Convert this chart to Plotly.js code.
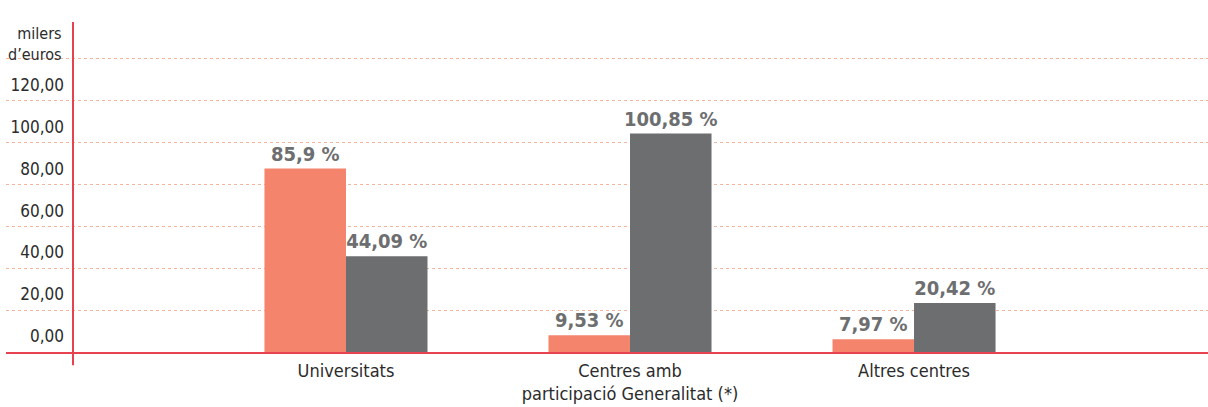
<!DOCTYPE html>
<html>
<head>
<meta charset="utf-8">
<script src="https://cdn.plot.ly/plotly-3.0.1.min.js"></script>
<style>html,body{margin:0;padding:0;background:#fff;}#chart{width:1208px;height:407px;}</style>
</head>
<body>
<div id="chart"></div>
<script>
// Data
const categories = ["Universitats", "Centres amb<br>participació Generalitat (*)", "Altres centres"];
const seriesA = [87.6, 8.0, 6.1];      // orange bars (axis units)
const seriesB = [45.7, 104.3, 23.4];   // grey bars
const labelsA = ["85,9 %", "9,53 %", "7,97 %"];
const labelsB = ["44,09 %", "100,85 %", "20,42 %"];
const tickVals = [7.5, 27.5, 47.5, 67.5, 87.5, 107.5, 127.5];
const tickText = ["0,00", "20,00", "40,00", "60,00", "80,00", "100,00", "120,00"];
const unitLabel = "milers<br>d’euros";

const FONT = "'DejaVu Sans Condensed', 'Liberation Sans Narrow', 'Roboto', sans-serif";
const ORANGE = "#f4846c";
const GREY = "#6d6e70";
const RED = "#e8414f";
const GRID = "#f7b49c";
const axisX = (73 - 6) / 1202;

const traces = [
  {type: "bar", x: categories, y: seriesA, text: labelsA, textposition: "outside", cliponaxis: false, constraintext: "none",
   marker: {color: ORANGE}, textfont: {family: FONT, size: 20, color: GREY, weight: "bold"}, hoverinfo: "none"},
  {type: "bar", x: categories, y: seriesB, text: labelsB, textposition: "outside", cliponaxis: false, constraintext: "none",
   marker: {color: GREY}, textfont: {family: FONT, size: 20, color: GREY, weight: "bold"}, hoverinfo: "none"},
  {type: "scatter", x: [categories[0]], y: [0], yaxis: "y2", mode: "markers", marker: {opacity: 0}, hoverinfo: "none", showlegend: false}
];

const layout = {
  width: 1208, height: 407,
  margin: {l: 6, r: 0, t: 22, b: 55},
  paper_bgcolor: "#fff", plot_bgcolor: "#fff",
  showlegend: false,
  barmode: "group", bargap: 0.426, bargroupgap: 0,
  font: {family: FONT, color: "#2b2b2b"},
  xaxis: {
    type: "category", range: [-1.197, 3.035], showgrid: false, zeroline: false,
    showline: true, linecolor: RED, linewidth: 2, ticks: "", ticklabelstandoff: 1,
    tickfont: {family: FONT, size: 18, color: "#2b2b2b"}
  },
  yaxis: {
    range: [0, 157.6], dtick: 20, tick0: 0, showticklabels: false, zeroline: false,
    showgrid: true, gridcolor: GRID, gridwidth: 1, griddash: "dot", ticks: ""
  },
  yaxis2: {
    overlaying: "y", anchor: "free", position: axisX, side: "left",
    range: [0, 157.6], tickmode: "array", tickvals: tickVals, ticktext: tickText,
    showgrid: false, zeroline: false, showline: false, ticks: "", ticklabelstandoff: 9,
    tickfont: {family: FONT, size: 17, color: "#2b2b2b"}
  },
  shapes: [
    {type: "line", xref: "paper", yref: "paper", x0: axisX, x1: axisX, y0: -0.04, y1: 1,
     line: {color: RED, width: 2}}
  ],
  annotations: [
    {xref: "paper", yref: "paper", x: axisX, y: 1.0, xanchor: "right", yanchor: "top", xshift: -9,
     text: unitLabel, showarrow: false, align: "right",
     font: {family: FONT, size: 16, color: "#2b2b2b"}}
  ]
};

Plotly.newPlot("chart", traces, layout, {staticPlot: true, displayModeBar: false});
</script>
</body>
</html>
